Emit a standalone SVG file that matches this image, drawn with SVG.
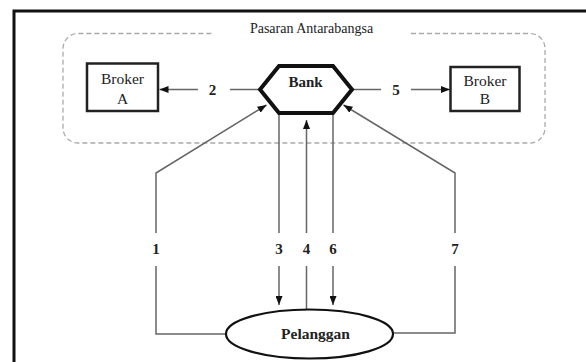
<svg xmlns="http://www.w3.org/2000/svg" width="586" height="362" viewBox="0 0 586 362" font-family="'Liberation Serif', 'DejaVu Serif', serif">
<style>
text{font-family:'Liberation Serif','DejaVu Serif',serif;fill:#222}
.b{font-weight:bold}
.num{font-weight:bold;font-size:15px;text-anchor:middle}
.conn{fill:none;stroke:#666;stroke-width:1.5}
.box{fill:#fff;stroke:#222;stroke-width:2.5}
</style>
<defs>
<marker id="arr" markerUnits="userSpaceOnUse" markerWidth="9" markerHeight="7" refX="9" refY="3.5" orient="auto">
<path d="M0,0 L9,3.5 L0,7 z" fill="#111"/>
</marker>
</defs>
<rect width="586" height="362" fill="#fff"/>
<path d="M14,362 V11 H586" fill="none" stroke="#111" stroke-width="3"/>
<g id="pasaran">
<path d="M411,33.5 H530 A15,15 0 0 1 545,48.5 V128 A15,15 0 0 1 530,143 H78 A15,15 0 0 1 63,128 V48.5 A15,15 0 0 1 78,33.5 H212" fill="none" stroke="#aaa" stroke-width="1.3" stroke-dasharray="5 3"/>
<text x="311.5" y="33" font-size="14" text-anchor="middle">Pasaran Antarabangsa</text>
</g>
<g id="connectors">
<path class="conn" d="M226,334 H156 V266"/>
<path class="conn" d="M156,233 V173 L266.5,105" marker-end="url(#arr)"/>
<path class="conn" d="M393,333 H455 V266"/>
<path class="conn" d="M455,233 V173 L343.5,105" marker-end="url(#arr)"/>
<path class="conn" d="M279,113 V233"/>
<path class="conn" d="M279,266 V305" marker-end="url(#arr)"/>
<path class="conn" d="M306.5,309 V266"/>
<path class="conn" d="M306.5,233 V120" marker-end="url(#arr)"/>
<path class="conn" d="M333,113 V233"/>
<path class="conn" d="M333,266 V305" marker-end="url(#arr)"/>
<path class="conn" d="M260,89.5 H230"/>
<path class="conn" d="M198,89.5 H159.5" marker-end="url(#arr)"/>
<path class="conn" d="M352,89.5 H381"/>
<path class="conn" d="M411,89.5 H450" marker-end="url(#arr)"/>
<text class="num" x="156" y="254">1</text>
<text class="num" x="212.5" y="94.5">2</text>
<text class="num" x="279" y="254">3</text>
<text class="num" x="306.5" y="254">4</text>
<text class="num" x="396" y="94.5">5</text>
<text class="num" x="333" y="254">6</text>
<text class="num" x="455" y="254">7</text>
</g>
<g id="brokerA">
<rect class="box" x="87" y="63.5" width="71" height="47.5"/>
<text x="122.5" y="83.5" font-size="15.5" text-anchor="middle">Broker</text>
<text x="122.5" y="103.5" font-size="15.5" text-anchor="middle">A</text>
</g>
<g id="brokerB">
<rect class="box" x="450.5" y="67" width="69" height="44"/>
<text x="485" y="85.5" font-size="15.5" text-anchor="middle">Broker</text>
<text x="485" y="103.5" font-size="15.5" text-anchor="middle">B</text>
</g>
<g id="bank">
<polygon points="260,89.5 279,66 333,66 352,89.5 333,113 279,113" fill="#fff" stroke="#111" stroke-width="4" stroke-linejoin="miter"/>
<text class="b" x="305.5" y="86.5" font-size="15" text-anchor="middle">Bank</text>
</g>
<g id="pelanggan">
<ellipse cx="309.5" cy="334" rx="83.5" ry="24.5" fill="#fff" stroke="#111" stroke-width="2.2"/>
<text class="b" x="315.5" y="339" font-size="15.5" text-anchor="middle">Pelanggan</text>
</g>
</svg>
